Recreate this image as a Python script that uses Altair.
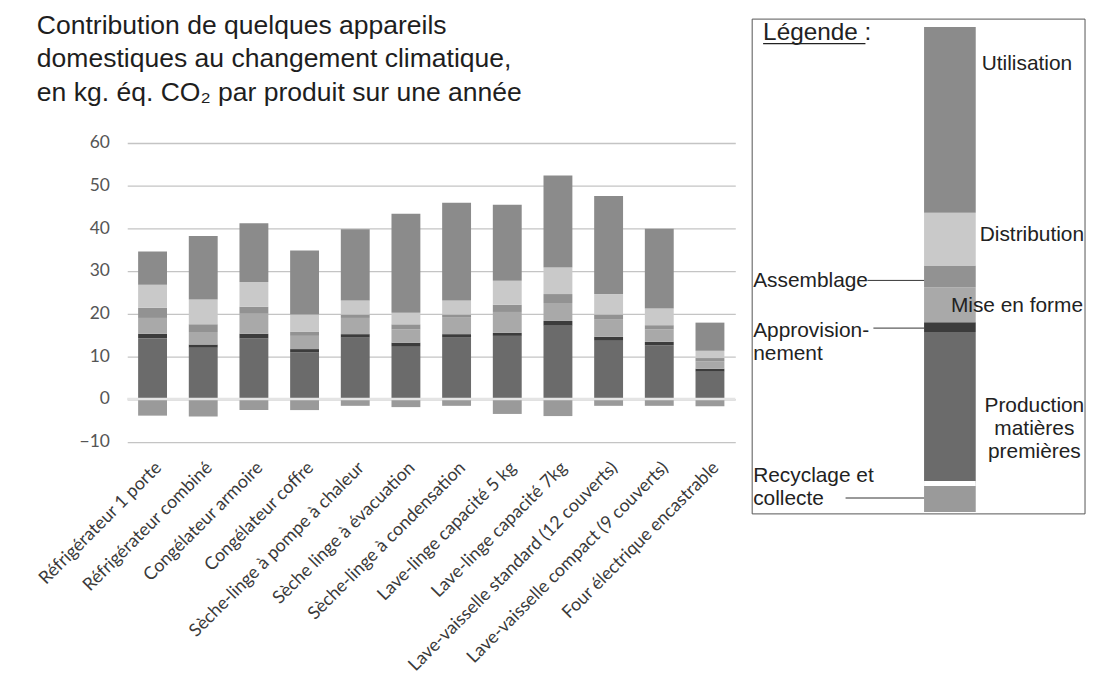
import altair as alt
import pandas as pd

appareils = [
    "Réfrigérateur 1 porte", "Réfrigérateur combiné", "Congélateur armoire",
    "Congélateur coffre", "Sèche-linge à pompe à chaleur", "Sèche linge à évacuation",
    "Sèche-linge à condensation", "Lave-linge capacité 5 kg", "Lave-linge capacité 7kg",
    "Lave-vaisselle standard (12 couverts)", "Lave-vaisselle compact (9 couverts)",
    "Four électrique encastrable",
]
etapes = ["Production matières premières", "Approvisionnement", "Mise en forme",
          "Assemblage", "Distribution", "Utilisation", "Recyclage et collecte"]
production = [14.2, 12.0, 14.2, 10.9, 14.4, 12.4, 14.4, 14.8, 17.2, 13.8, 12.6, 6.4]
approvisionnement = [1.1, 0.8, 1.1, 0.8, 0.8, 0.8, 0.8, 0.7, 1.1, 0.8, 0.8, 0.7]
mise_en_forme = [3.7, 2.9, 4.7, 3.1, 3.8, 3.1, 4.0, 4.9, 4.2, 4.0, 2.9, 1.7]
assemblage = [2.4, 1.8, 1.6, 1.0, 0.8, 1.2, 0.6, 1.7, 2.1, 1.2, 1.0, 0.8]
distribution = [5.4, 5.8, 5.8, 4.0, 3.3, 2.7, 3.3, 5.6, 6.2, 4.8, 3.9, 1.7]
utilisation = [7.8, 14.9, 13.8, 15.0, 16.7, 23.2, 22.9, 17.8, 21.6, 23.0, 18.7, 6.6]
recyclage = [-3.9, -4.1, -2.6, -2.6, -1.6, -1.9, -1.6, -3.5, -4.0, -1.6, -1.6, -1.7]
y_ticks = [-10, 0, 10, 20, 30, 40, 50, 60]
couleurs = ["#6b6b6b", "#3c3c3c", "#a9a9a9", "#929292", "#c9c9c9", "#8b8b8b", "#9a9a9a"]

# schematic legend bar (arbitrary units)
legende_valeurs = [15.25, 1.0, 3.5, 2.2, 5.3, 18.7, -2.85]

titre = ["Contribution de quelques appareils",
         "domestiques au changement climatique,",
         "en kg. éq. CO\u2082 par produit sur une année"]

series = [production, approvisionnement, mise_en_forme, assemblage,
          distribution, utilisation, recyclage]
rows = []
for k, (etape, vals) in enumerate(zip(etapes, series)):
    for a, v in zip(appareils, vals):
        rows.append({"appareil": a, "etape": etape, "valeur": v, "ordre": k})
df = pd.DataFrame(rows)

color_scale = alt.Scale(domain=etapes, range=couleurs)
one = pd.DataFrame({"a": [0]})
main_scale = alt.Scale(domain=[-10, 60], nice=False)
leg_scale = alt.Scale(domain=[4.22, 34.28], nice=False, zero=False)

# ---------- main bars ----------
bars = alt.Chart(df).mark_bar().encode(
    x=alt.X("appareil:N", sort=appareils,
            scale=alt.Scale(paddingInner=0.43, paddingOuter=0.215),
            axis=alt.Axis(title=None, labelAngle=-45, labelFont="Lato",
                          labelFontSize=18, labelColor="#3a3a3a", labelLimit=400,
                          labelOverlap=False, ticks=False, domain=False,
                          labelPadding=17, grid=False)),
    y=alt.Y("valeur:Q", stack="zero", scale=main_scale,
            axis=alt.Axis(values=y_ticks, title=None, ticks=False, domain=False,
                          labelFont="Lato", labelFontSize=17.5, labelColor="#555555",
                          labelPadding=18, gridColor="#c4c4c4", gridWidth=1.3)),
    color=alt.Color("etape:N", scale=color_scale, legend=None),
    order=alt.Order("ordre:Q"),
)
zero_rule = alt.Chart(one).mark_rule(color="#e4e4e4", strokeWidth=2.5).encode(
    y=alt.Y(datum=0, scale=main_scale, axis=None))

title_text = alt.Chart(one).mark_text(
    text="\n".join(titre), lineBreak="\n", align="left", baseline="alphabetic",
    font="Liberation Sans", fontSize=26.7, lineHeight=33.7, color="#1e1e1e",
).encode(x=alt.value(-91), y=alt.value(-110))

# ---------- legend panel (drawn to the right of the plot) ----------
pos = [v for v in legende_valeurs if v >= 0]
ends = pd.Series(pos).cumsum().tolist()
starts = [0.0] + ends[:-1]
leg_df = pd.DataFrame({
    "etape": etapes,
    "debut": starts + [0.0],
    "fin": ends + [legende_valeurs[-1]],
})
LX = 629  # legend panel left edge, relative to plot origin
BX1, BX2 = LX + 173, LX + 225

leg_bar = alt.Chart(leg_df).mark_bar().encode(
    x=alt.value(BX1), x2=alt.value(BX2),
    y=alt.Y("debut:Q", scale=leg_scale, axis=None), y2="fin:Q",
    color=alt.Color("etape:N", scale=color_scale, legend=None),
)
gap = alt.Chart(one).mark_rule(color="white", strokeWidth=5).encode(
    x=alt.value(BX1), x2=alt.value(BX2), y=alt.Y(datum=0, scale=leg_scale, axis=None))
box = alt.Chart(one).mark_rect(fill="transparent", stroke="#555", strokeWidth=1).encode(
    x=alt.value(LX), x2=alt.value(LX + 335),
    y=alt.Y(datum=46.75, scale=leg_scale, axis=None), y2=alt.Y2(datum=-3.05))


def label(txt, xpx, yv, align="left", size=21):
    return alt.Chart(one).mark_text(
        text=txt, align=align, baseline="alphabetic", font="Liberation Sans",
        fontSize=size, color="#222", lineBreak="\n", lineHeight=23.5,
    ).encode(x=alt.value(LX + xpx), y=alt.Y(datum=yv, scale=leg_scale, axis=None))


def hline(x1, x2, yv, color="#333", width=1.0):
    return alt.Chart(one).mark_rule(color=color, strokeWidth=width).encode(
        x=alt.value(LX + x1), x2=alt.value(LX + x2),
        y=alt.Y(datum=yv, scale=leg_scale, axis=None))


layers = [
    bars, zero_rule, title_text,
    box, leg_bar, gap,
    label("Légende :", 11, 44.62, size=24.5),
    hline(11, 114, 44.28, color="#222", width=1.2),
    label("Utilisation", 231, 41.65),
    label("Distribution", 229, 24.45),
    label("Assemblage", 1, 19.75),
    label("Mise en forme", 200, 17.25),
    label("Approvision-\nnement", 1, 14.75),
    label("Production\nmatières\npremières", 284, 7.25, align="center"),
    label("Recyclage et\ncollecte", 1, 0.15),
    hline(116, 173, 20.45), hline(122, 173, 15.65), hline(94, 173, -1.45),
]

chart = alt.layer(*layers).resolve_scale(y="independent").properties(
    width=612, height=300.6,
    autosize=alt.AutoSizeParams(type="none"),
    padding={"left": 120, "top": 133.7, "right": 356, "bottom": 239},
).configure_view(stroke="transparent")

chart.save("out.html", embed_options={"renderer": "svg", "actions": False})
